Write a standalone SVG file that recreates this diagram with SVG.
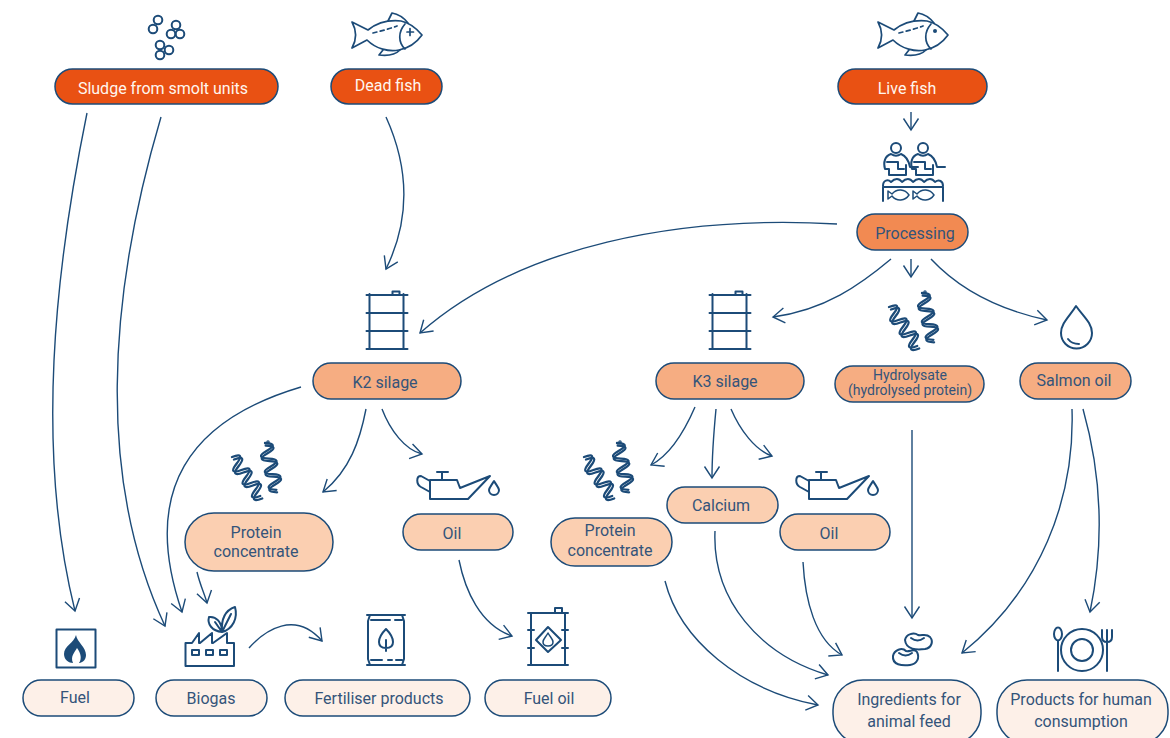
<svg xmlns="http://www.w3.org/2000/svg" width="1170" height="738" viewBox="0 0 1170 738">
<style>
text{font-family:Roboto,"Liberation Sans",sans-serif;font-size:16px;fill:#34547a;text-anchor:middle}
.w{fill:#fff6ef}
.p{stroke:#1c4b78;stroke-width:1.5}
.a{fill:#e95113}.b{fill:#f28a52}.c{fill:#f6ad82}.d{fill:#fbcfb1}.e{fill:#fdf0e8}
.i{fill:none;stroke:#1c4b78;stroke-width:2;stroke-linejoin:round;stroke-linecap:round}
.f{fill:none;stroke:#1c4b78;stroke-width:1.700;stroke-linejoin:round;stroke-linecap:round}
.h{fill:none;stroke:#1c4b78;stroke-width:2.300;stroke-linejoin:round;stroke-linecap:round}
</style>
<defs>
<marker id="arr" markerUnits="userSpaceOnUse" markerWidth="24" markerHeight="24" refX="15" refY="12" orient="auto"><path d="M3.500 4.500L15 12L3.500 19.500" fill="none" stroke="#1c4b78" stroke-width="1.4"/></marker>
<g id="fish"><path d="M1 10L17 18C27 10 40 8 50 9C60 11 66 17 71 23C66 30 58 36 48 38C38 40 25 37 16 28L1 36C6 27 6 19 1 10Z"/><path d="M37 9L41 1C47 2 53 6 57 11M32 38L28 43C36 44 44 43 49 38M54 12C47 20 47 30 54 37"/><path d="M22 21C30 19 38 17 46 14" stroke-dasharray="4 3.500"/></g>
<g id="barrel"><path d="M3 3V58M37 3V58M0 4H41M0 22H41M0 40H41M0 58H41"/><path d="M26 4V0.500H33V4"/></g>
<g id="helix"><path d="M3 17q13.650 -5.050 4.700 6.500t4.700 6.500t4.700 6.500t4.700 6.500t4.700 6.500t4.700 6.500"/><path d="M5 19.500q13.650 -5.050 4.700 6.500t4.700 6.500t4.700 6.500t4.700 6.500t4.700 6.500t4.700 6.500"/><path d="M36 3q14.550 0.700 1.900 7.800t1.900 7.800t1.900 7.800t1.900 7.800t1.900 7.800t1.900 7.800"/><path d="M36.700 5.500q14.550 0.700 1.900 7.800t1.900 7.800t1.900 7.800t1.900 7.800t1.900 7.800t1.900 7.800"/><circle cx="39" cy="2" r="0.600"/></g>
<g id="oilcan"><path d="M430 480H457L460 488L490 476L468 499H430ZM437 472H448M442 472V480M430 481L421 476C416 476 416 484 421 487L430 492"/><path d="M494 481C491 486 489 488 489 490a5 5 0 0 0 10 0c0 -2 -2 -4 -5 -9z"/></g>
<g id="person"><circle cx="11" cy="5" r="5"/><path d="M4 32V26H0C-2 19 0 13 6 11C9 13 13 13 16 11C21 13 24 19 25 24H33M2 19H13V26H19M4 32H21V22"/></g>
<g id="sfish"><path d="M0 0L4 3C9 -3 17 -2 21 4C17 10 9 11 4 5L0 8Z"/></g>
</defs>

<g id="connectors" fill="none" stroke="#1c4b78" stroke-width="1.4" marker-end="url(#arr)">
<path d="M87 113C55 270 35 450 75 611"/>
<path d="M161 117C107 300 97 480 165 626"/>
<path d="M386 117C410 170 410 220 386 269"/>
<path d="M911 112V130"/>
<path d="M837 224C680 215 520 245 420 333"/>
<path d="M891 259C860 285 825 310 773 317"/>
<path d="M911 259V277"/>
<path d="M931 259C960 290 1000 310 1047 320"/>
<path d="M301 387C190 420 140 490 182 612"/>
<path d="M366 409C360 440 350 470 323 492"/>
<path d="M382 409C390 430 405 450 422 454"/>
<path d="M695 407C685 430 670 455 651 465"/>
<path d="M716 409C714 430 712 460 712 478"/>
<path d="M731 409C740 430 755 450 772 456"/>
<path d="M197 572C200 585 205 595 207 603"/>
<path d="M249 648C265 630 295 610 322 641"/>
<path d="M459 560C465 590 480 625 512 636"/>
<path d="M665 581C680 640 740 690 818 705"/>
<path d="M715 531C712 600 760 655 828 675"/>
<path d="M803 562C805 600 815 640 842 655"/>
<path d="M912 430V618"/>
<path d="M1072 409C1075 500 1040 590 962 653"/>
<path d="M1083 409C1103 480 1103 550 1090 612"/>
</g>

<g id="sludge"><g class="i"><circle cx="158" cy="20" r="4.300"/><circle cx="153" cy="29" r="4.300"/><circle cx="176" cy="25" r="4.300"/><circle cx="171" cy="34" r="4.300"/><circle cx="180" cy="34" r="4.300"/><circle cx="160" cy="45" r="4.300"/><circle cx="160" cy="55" r="4.300"/><circle cx="169" cy="50" r="4.300"/></g>
<rect class="a p" x="55" y="69" width="223" height="35" rx="17.500"/><text class="w" x="163" y="94">Sludge from smolt units</text></g>

<g id="dead-fish"><use href="#fish" x="351" y="12" class="f"/><path class="f" d="M407 32h6.500M410 28.500v7"/>
<rect class="a p" x="331" y="69" width="111" height="35" rx="17.500"/><text class="w" x="388" y="91">Dead fish</text></g>

<g id="live-fish"><use href="#fish" x="877" y="12" class="f"/><circle cx="935" cy="31" r="2" fill="#1c4b78"/>
<rect class="a p" x="838" y="69" width="149" height="35" rx="17.500"/><text class="w" x="907" y="94">Live fish</text></g>

<g id="processing"><g class="i"><use href="#person" x="885" y="143"/><use href="#person" x="912" y="143"/>
<path d="M883 186C883 180 888 179 891 182C895 178 899 178 902 182C906 178 910 178 913 182C917 178 921 178 924 182C928 178 932 178 935 182C939 179 943 181 943 186M883 187H943M883 187V201M943 187V201"/>
<use href="#sfish" x="888" y="191" style="stroke-width:1.500"/><use href="#sfish" x="913" y="191" style="stroke-width:1.500"/></g>
<rect class="b p" x="857" y="214" width="111" height="36" rx="18"/><text x="915" y="239">Processing</text></g>

<g id="k2-silage"><use href="#barrel" x="366.500" y="291" class="i"/>
<rect class="c p" x="313" y="363" width="148" height="36" rx="18"/><text x="385" y="388">K2 silage</text></g>

<g id="k3-silage"><use href="#barrel" x="709.500" y="291" class="i"/>
<rect class="c p" x="656" y="363" width="148" height="36" rx="18"/><text x="725" y="387">K3 silage</text></g>

<g id="hydrolysate"><use href="#helix" x="886" y="290" class="h"/>
<rect class="c p" x="835" y="366" width="149" height="36" rx="18"/><text x="910" y="380" style="font-size:14px">Hydrolysate</text><text x="910" y="395" style="font-size:14px">(hydrolysed protein)</text></g>

<g id="salmon-oil"><path class="i" d="M1076 306C1070 316 1061 323 1061 333a15.500 15.500 0 0 0 31 0C1092 323 1083 316 1076 306ZM1068 339C1071 343 1075 344 1079 344"/>
<rect class="c p" x="1020" y="363" width="111" height="36" rx="18"/><text x="1074" y="386">Salmon oil</text></g>

<g id="protein-1"><use href="#helix" x="229" y="440" class="h"/>
<rect class="d p" x="185" y="513" width="148" height="58" rx="29"/><text x="256" y="538">Protein</text><text x="256" y="557">concentrate</text></g>

<g id="oil-1"><use href="#oilcan" class="i"/>
<rect class="d p" x="403" y="514" width="110" height="36" rx="18"/><text x="452" y="539">Oil</text></g>

<g id="protein-2"><use href="#helix" x="581" y="440" class="h"/>
<rect class="d p" x="551" y="518" width="121" height="48" rx="24"/><text x="610" y="536">Protein</text><text x="610" y="556">concentrate</text></g>

<g id="calcium"><rect class="d p" x="667" y="487" width="111" height="36" rx="18"/><text x="721" y="511">Calcium</text></g>

<g id="oil-2"><use href="#oilcan" x="379" class="i"/>
<rect class="d p" x="780" y="514" width="110" height="36" rx="18"/><text x="829" y="539">Oil</text></g>

<g id="fuel"><rect class="i" x="56.500" y="629.500" width="39" height="38"/><path fill="#1c4b78" d="M76 635C77 642 86 647 86 655C86 661 81 663 79 663C82 659 81 653 77 648C75 652 70 656 73 663C69 663 64 660 64 654C64 646 74 643 76 635Z"/>
<rect class="e p" x="23" y="680" width="111" height="36" rx="18"/><text x="75" y="703">Fuel</text></g>

<g id="biogas"><path class="i" d="M185.500 666V643H192L199 633V643H200L212 633V643H213L227 633V643H234V666ZM192 650h7v5h-7zM206 650h7v5h-7zM220 650h7v5h-7z"/>
<path class="i" d="M222 632C212 631 207 624 209 617C216 616 222 622 222 632ZM222 632C221 618 226 610 235 607C238 618 233 629 222 632ZM222 632L231 614M222 632L215 622"/>
<rect class="e p" x="156" y="680" width="111" height="36" rx="18"/><text x="211" y="704">Biogas</text></g>

<g id="fertiliser"><path class="i" d="M367 615H405M367 665H405M370 615L368 621V659L370 665M402 615L404 621V659L402 665M371 620H390M395 620H402M371 660H382M388 660H392M396 660H402"/>
<path class="i" d="M386 629C381 634 379 638 379 642C379 646 382 648 386 648C390 648 393 646 393 642C393 638 391 634 386 629ZM386 640V651"/>
<rect class="e p" x="285" y="680" width="185" height="36" rx="18"/><text x="379" y="704">Fertiliser products</text></g>

<g id="fuel-oil"><path class="i" d="M531 613V665M565 613V665M528 613H568M528 665H568M528 630H534M562 630H568M528 648H534M562 648H568M555 613V608H562V613"/>
<path class="i" d="M548 627L561 640L548 652L536 640Z"/><path class="i" style="stroke-width:1.500" d="M548 633C550 637 553 639 553 642C553 645 551 646 548 646C545 646 543 645 543 642C543 639 546 637 548 633Z"/>
<rect class="e p" x="485" y="680" width="126" height="36" rx="18"/><text x="549" y="704">Fuel oil</text></g>

<g id="ingredients"><path class="i" d="M905 640C906 634 914 632 918 635C922 636 926 633 930 637C934 642 931 648 925 649C917 650 906 650 905 640ZM911 638C915 641 920 641 924 638M893 656C894 650 902 647 906 651C910 652 914 648 917 652C920 658 917 664 910 665C902 666 892 665 893 656ZM899 653C903 656 908 656 912 653"/>
<rect class="e p" x="833" y="680" width="148" height="64" rx="30"/><text x="909" y="705">Ingredients for</text><text x="909" y="727">animal feed</text></g>

<g id="human"><g class="i"><circle cx="1082" cy="650" r="21"/><circle cx="1082" cy="650" r="11"/><ellipse cx="1058" cy="634" rx="4" ry="6.500"/><path d="M1058 641V671M1107 671V642M1102 630V637C1102 640 1104 642 1107 642C1110 642 1112 640 1112 637V630M1107 630V642"/></g>
<rect class="e p" x="997" y="680" width="171" height="64" rx="30"/><text x="1081" y="705">Products for human</text><text x="1081" y="727">consumption</text></g>
</svg>
